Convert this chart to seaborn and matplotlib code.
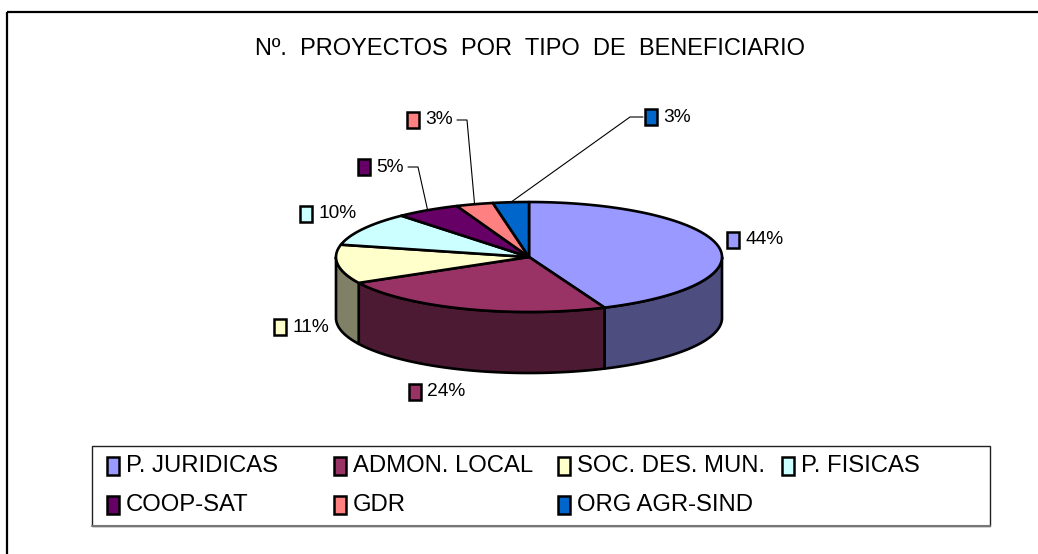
import numpy as np
import matplotlib
matplotlib.use("Agg")
import matplotlib.pyplot as plt
import seaborn as sns
from matplotlib.patches import Polygon, Rectangle
from matplotlib.colors import to_rgb

# data
categories = ["P. JURIDICAS", "ADMON. LOCAL", "SOC. DES. MUN.", "P. FISICAS",
              "COOP-SAT", "GDR", "ORG AGR-SIND"]
shares = [43.6, 23.6, 11.4, 9.9, 5.4, 3.1, 3.0]
colors = ["#9999FF", "#993366", "#FFFFCC", "#CCFFFF", "#660066", "#FF8080", "#0066CC"]
title = "Nº.  PROYECTOS  POR  TIPO  DE  BENEFICIARIO"

sns.set_theme(style="white")
plt.rcParams["font.family"] = ["Liberation Sans Narrow", "Liberation Sans", "DejaVu Sans"]

fig = plt.figure(figsize=(10.38, 5.54), dpi=100)
ax = fig.add_axes([0, 0, 1, 1])
ax.set_xlim(0, 1038)
ax.set_ylim(554, 0)
ax.axis("off")

# outer chart border
ax.add_patch(Rectangle((7, 12), 1060, 560, fill=False, ec="black", lw=1.6, zorder=0))

# pie geometry (pixels)
cx, cy, ra, rb, depth = 529, 257, 193, 55, 61


def ellipse_pts(t1, t2, dy=0):
    t = np.radians(np.linspace(t1, t2, max(int(abs(t2 - t1)) * 2, 2)))
    return np.column_stack([cx + ra * np.sin(t), cy - rb * np.cos(t) + dy])


vals = np.array(shares)
bounds = np.concatenate([[0], np.cumsum(vals) / vals.sum() * 360])

# side walls
for i in range(len(vals)):
    a1, a2 = max(bounds[i], 90), min(bounds[i + 1], 270)
    if a2 <= a1:
        continue
    top = ellipse_pts(a1, a2)
    bot = ellipse_pts(a1, a2, depth)[::-1]
    side = tuple(np.array(to_rgb(colors[i])) * 0.5)
    ax.add_patch(Polygon(np.vstack([top, bot]), closed=True, fc=side, ec="black",
                         lw=1.9, joinstyle="round", zorder=1))

# top faces
for i in range(len(vals)):
    pts = np.vstack([[cx, cy], ellipse_pts(bounds[i], bounds[i + 1])])
    ax.add_patch(Polygon(pts, closed=True, fc=colors[i], ec="black",
                         lw=1.9, joinstyle="round", zorder=2))

# data labels
label_pos = [(727, 240), (409, 392), (274, 327), (300, 214), (358, 167), (407, 120), (645, 117)]
leaders = {4: (408, 418), 5: (457, 467), 6: (643, 630)}
for i, (lx, ly) in enumerate(label_pos):
    ax.add_patch(Rectangle((lx, ly - 8), 12, 16, fc=colors[i], ec="black", lw=1.8, zorder=3))
    ax.text(lx + 18, ly, f"{vals[i] / vals.sum() * 100:.0f}%", fontsize=13.8,
            ha="left", va="center", color="black", zorder=3)
    if i in leaders:
        mid = (bounds[i] + bounds[i + 1]) / 2
        ex, ey = ellipse_pts(mid, mid)[0]
        x0, x1 = leaders[i]
        ax.plot([x0, x1, ex], [ly, ly, ey], color="black", lw=0.8, zorder=3)

# title
ax.text(530, 49, title, fontsize=17, ha="center", va="center", color="black")

# legend
ax.add_patch(Rectangle((92, 446), 898, 80, fill=False, ec="#222222", lw=1.0, zorder=3))
ax.plot([92, 990], [526, 526], color="#777777", lw=1.5, zorder=3)
col_x = [107, 334, 558, 782]
row_y = [466, 505]
for i, name in enumerate(categories):
    lx, ly = col_x[i % 4], row_y[i // 4]
    ax.add_patch(Rectangle((lx, ly - 9), 12, 18, fc=colors[i], ec="black", lw=1.8, zorder=4))
    ax.text(lx + 19, ly, name, fontsize=17.2, ha="left", va="center", color="black", zorder=4)

fig.savefig("out.png", dpi=100)
